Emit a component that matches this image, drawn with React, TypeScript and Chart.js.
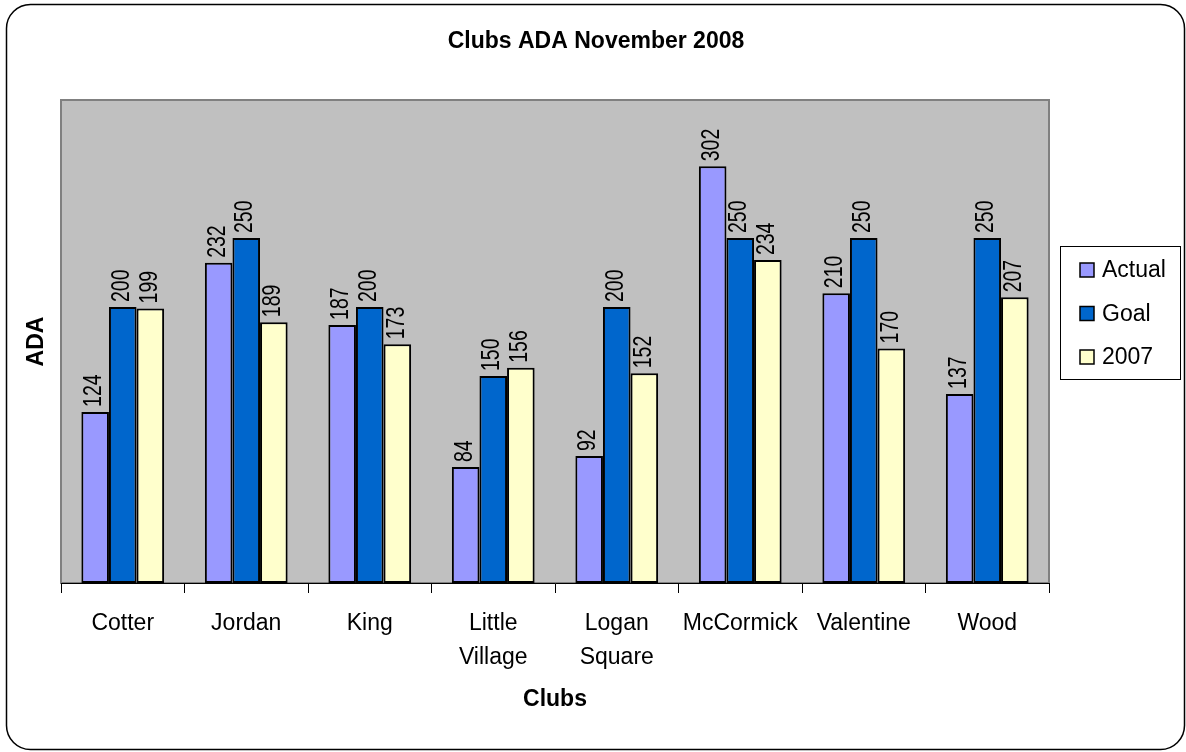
import React, { useEffect, useRef } from "react";
import { Chart, registerables } from "chart.js";

Chart.register(...registerables);

const categories: (string | string[])[] = [
  "Cotter",
  "Jordan",
  "King",
  ["Little", "Village"],
  ["Logan", "Square"],
  "McCormick",
  "Valentine",
  "Wood",
];
const actualValues = [124, 232, 187, 84, 92, 302, 210, 137];
const goalValues = [200, 250, 200, 150, 200, 250, 250, 250];
const prevYearValues = [199, 189, 173, 156, 152, 234, 170, 207];
const seriesNames = ["Actual", "Goal", "2007"];
const seriesColors = ["#9999FF", "#0066CC", "#FFFFCC"];
const chartTitle = "Clubs ADA November 2008";
const xTitle = "Clubs";
const yTitle = "ADA";
const yMax = 350;

const FONT = "'Liberation Sans', Arial, Helvetica, sans-serif";

const decorPlugin = {
  id: "decor",
  beforeDraw(chart: any) {
    const { ctx, chartArea } = chart;
    const { left, top, right, bottom } = chartArea;
    ctx.save();
    ctx.fillStyle = "#FFFFFF";
    ctx.fillRect(0, 0, chart.width, chart.height);
    const fx = 6.5, fy = 4.5, fw = 1178, fh = 745, r = 24;
    ctx.beginPath();
    ctx.moveTo(fx + r, fy);
    ctx.lineTo(fx + fw - r, fy);
    ctx.arcTo(fx + fw, fy, fx + fw, fy + r, r);
    ctx.lineTo(fx + fw, fy + fh - r);
    ctx.arcTo(fx + fw, fy + fh, fx + fw - r, fy + fh, r);
    ctx.lineTo(fx + r, fy + fh);
    ctx.arcTo(fx, fy + fh, fx, fy + fh - r, r);
    ctx.lineTo(fx, fy + r);
    ctx.arcTo(fx, fy, fx + r, fy, r);
    ctx.closePath();
    ctx.strokeStyle = "#000000";
    ctx.lineWidth = 1.5;
    ctx.stroke();
    ctx.fillStyle = "#C0C0C0";
    ctx.fillRect(left, top, right - left, bottom - top);
    ctx.strokeStyle = "#808080";
    ctx.lineWidth = 2;
    ctx.strokeRect(left, top, right - left, bottom - top);
    ctx.restore();
  },
  afterDatasetsDraw(chart: any) {
    const { ctx } = chart;
    ctx.save();
    ctx.fillStyle = "#000000";
    ctx.font = `26px ${FONT}`;
    ctx.textAlign = "left";
    ctx.textBaseline = "middle";
    chart.data.datasets.forEach((ds: any, di: number) => {
      const meta = chart.getDatasetMeta(di);
      meta.data.forEach((el: any, i: number) => {
        ctx.save();
        ctx.translate(el.x - 1, el.y - 5);
        ctx.rotate(-Math.PI / 2);
        ctx.scale(0.75, 1);
        ctx.fillText(String(ds.data[i]), 0, 0);
        ctx.restore();
      });
    });
    ctx.restore();
  },
  afterDraw(chart: any) {
    const { ctx, chartArea } = chart;
    ctx.save();
    ctx.fillStyle = "#000000";
    ctx.font = `bold 23px ${FONT}`;
    ctx.textAlign = "center";
    ctx.textBaseline = "middle";
    ctx.fillText(chartTitle, 596, 42);
    ctx.fillText(xTitle, (chartArea.left + chartArea.right) / 2, 700);
    ctx.save();
    ctx.translate(37, (chartArea.top + chartArea.bottom) / 2);
    ctx.rotate(-Math.PI / 2);
    ctx.fillText(yTitle, 0, 0);
    ctx.restore();
    const bx = 1060.5, by = 246.5, bw = 120, bh = 133;
    ctx.fillStyle = "#FFFFFF";
    ctx.fillRect(bx, by, bw, bh);
    ctx.strokeStyle = "#000000";
    ctx.lineWidth = 1;
    ctx.strokeRect(bx, by, bw, bh);
    ctx.font = `23px ${FONT}`;
    ctx.textAlign = "left";
    chart.data.datasets.forEach((ds: any, i: number) => {
      const cy = 270 + i * 43.5;
      ctx.fillStyle = ds.backgroundColor;
      ctx.fillRect(1080, cy - 7, 14, 14);
      ctx.strokeStyle = "#000000";
      ctx.lineWidth = 1.5;
      ctx.strokeRect(1080, cy - 7, 14, 14);
      ctx.fillStyle = "#000000";
      ctx.fillText(ds.label, 1102, cy + 1);
    });
    ctx.restore();
  },
};

export default function App() {
  const canvasRef = useRef<HTMLCanvasElement | null>(null);

  useEffect(() => {
    if (!canvasRef.current) return;
    const seriesValues = [actualValues, goalValues, prevYearValues];
    const chart = new Chart(canvasRef.current, {
      type: "bar",
      data: {
        labels: categories,
        datasets: seriesValues.map((vals, i) => ({
          label: seriesNames[i],
          data: vals,
          backgroundColor: seriesColors[i],
          borderColor: "#000000",
          borderWidth: 2,
          borderSkipped: false,
          barPercentage: 1,
          categoryPercentage: 0.67,
        })),
      },
      options: {
        responsive: false,
        animation: false,
        devicePixelRatio: 1,
        layout: { padding: { left: 61, right: 137, top: 100, bottom: 0 } },
        plugins: {
          legend: { display: false },
          title: { display: false },
          tooltip: { enabled: false },
        },
        scales: {
          x: {
            offset: true,
            grid: {
              display: true,
              offset: true,
              drawOnChartArea: false,
              drawTicks: true,
              tickLength: 10,
              color: "#000000",
              lineWidth: 1,
            },
            border: { display: true, color: "#000000", width: 1 },
            ticks: {
              color: "#000000",
              font: { family: FONT, size: 23, lineHeight: 1.48 },
              padding: 14,
              maxRotation: 0,
              autoSkip: false,
            },
            afterFit: (scale: any) => {
              scale.height = 169;
            },
          },
          y: {
            display: false,
            min: 0,
            max: yMax,
          },
        },
      },
      plugins: [decorPlugin],
    });
    return () => chart.destroy();
  }, []);

  return (
    <div style={{ position: "absolute", left: 0, top: 0, width: 1186, height: 752 }}>
      <canvas ref={canvasRef} width={1186} height={752} style={{ width: 1186, height: 752 }} />
    </div>
  );
}
